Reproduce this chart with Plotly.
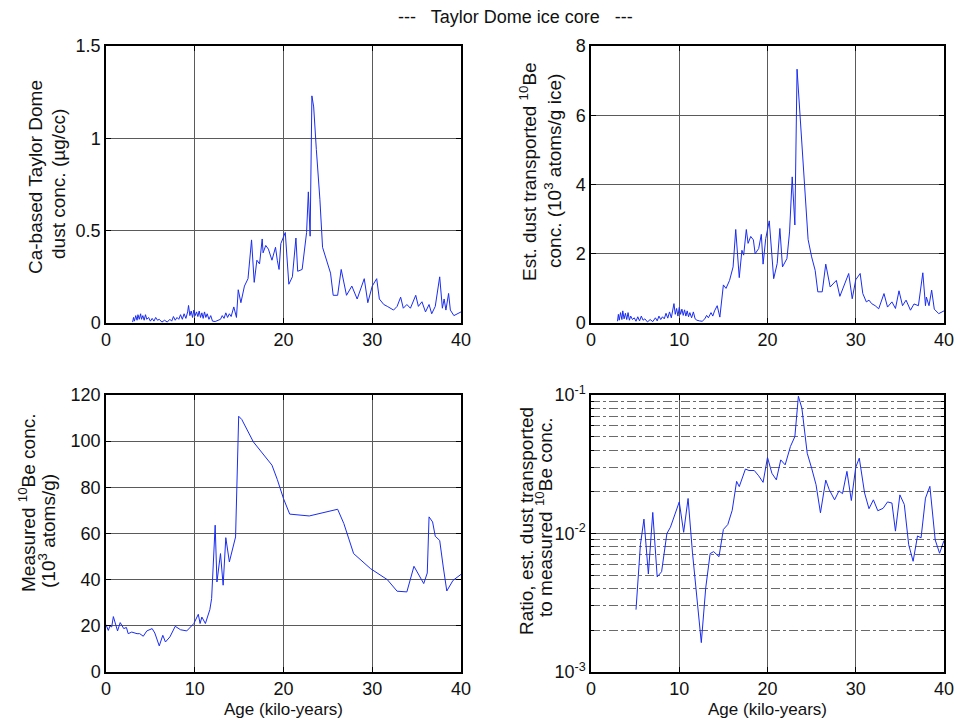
import plotly.graph_objects as go

# ---------------- data ----------------
dust_age = [3.0, 3.1, 3.2, 3.35, 3.5, 3.6, 3.75, 3.9, 4.0, 4.15, 4.3, 4.45, 4.6, 4.8, 5.0, 5.2, 5.4, 5.6, 5.8, 6.0,
            6.3, 6.6, 6.9, 7.2, 7.4, 7.6, 7.8, 8.0, 8.2, 8.4, 8.6, 8.8, 9.0, 9.2, 9.3, 9.45, 9.6, 9.75, 9.9, 10.05,
            10.2, 10.35, 10.5, 10.65, 10.8, 10.95, 11.1, 11.25, 11.4, 11.6, 11.8, 12.0, 12.3, 12.6, 12.9, 13.1, 13.3,
            13.5, 13.7, 13.9, 14.1, 14.4, 14.7, 14.9, 15.2, 15.6, 16.0, 16.4, 16.7, 17.0, 17.3, 17.6, 17.7, 18.0,
            18.3, 18.7, 19.1, 19.3, 19.5, 19.7, 20.2, 20.6, 21.0, 21.4, 21.6, 22.1, 22.3, 22.6, 22.8, 23.0, 23.2,
            23.4, 23.7, 24.1, 24.4, 24.9, 25.3, 25.6, 26.1, 26.5, 27.1, 27.7, 28.3, 29.1, 29.5, 30.0, 30.5, 30.8,
            31.3, 31.7, 32.0, 32.4, 32.8, 33.2, 33.5, 33.9, 34.3, 34.9, 35.2, 35.6, 36.0, 36.4, 36.7, 37.1, 37.6,
            37.9, 38.1, 38.3, 38.6, 38.8, 39.2, 40.0]
dust_conc = [0.005, 0.03, 0.01, 0.04, 0.015, 0.045, 0.02, 0.05, 0.02, 0.04, 0.015, 0.045, 0.02, 0.03, 0.01, 0.025,
             0.01, 0.03, 0.015, 0.02, 0.005, 0.015, 0.005, 0.02, 0.01, 0.035, 0.015, 0.03, 0.02, 0.045, 0.02, 0.05,
             0.025, 0.06, 0.095, 0.04, 0.065, 0.03, 0.07, 0.04, 0.06, 0.035, 0.065, 0.03, 0.055, 0.025, 0.06, 0.03,
             0.05, 0.02, 0.04, 0.01, 0.008, 0.015, 0.02, 0.04, 0.025, 0.055, 0.03, 0.05, 0.035, 0.087, 0.03, 0.18,
             0.11, 0.2, 0.24, 0.45, 0.22, 0.34, 0.32, 0.455, 0.38, 0.42, 0.40, 0.34, 0.41, 0.34, 0.29, 0.43, 0.49,
             0.21, 0.25, 0.46, 0.28, 0.29, 0.38, 0.49, 0.71, 0.47, 1.23, 1.17, 0.94, 0.67, 0.41, 0.33, 0.27, 0.15,
             0.15, 0.29, 0.15, 0.20, 0.13, 0.24, 0.11, 0.2, 0.24, 0.13, 0.10, 0.09, 0.08, 0.07, 0.09, 0.14, 0.08,
             0.1, 0.08, 0.15, 0.09, 0.115, 0.06, 0.1, 0.05, 0.09, 0.25, 0.08, 0.13, 0.07, 0.16, 0.07, 0.04, 0.06]

be_dust_age = [3.0, 3.1, 3.2, 3.35, 3.5, 3.6, 3.75, 3.9, 4.05, 4.2, 4.35, 4.5, 4.7, 4.9, 5.1, 5.3, 5.5, 5.7, 5.9,
               6.1, 6.4, 6.7, 7.0, 7.3, 7.5, 7.7, 7.9, 8.1, 8.3, 8.5, 8.7, 8.9, 9.1, 9.3, 9.4, 9.55, 9.7, 9.85,
               10.0, 10.15, 10.3, 10.45, 10.6, 10.75, 10.9, 11.05, 11.2, 11.4, 11.6, 11.8, 12.0, 12.3, 12.6, 12.9,
               13.1, 13.3, 13.6, 13.8, 14.0, 14.3, 14.6, 15.0, 15.3, 15.7, 16.1, 16.4, 16.8, 17.1, 17.3, 17.6,
               17.8, 18.1, 18.4, 18.6, 19.0, 19.3, 19.5, 19.8, 20.2, 20.7, 21.1, 21.4, 21.7, 22.2, 22.5, 22.8,
               23.1, 23.35, 23.5, 23.9, 24.2, 24.6, 25.0, 25.4, 25.7, 26.2, 26.6, 27.1, 27.8, 28.2, 29.2, 29.6,
               30.0, 30.5, 30.8, 31.2, 31.5, 31.8, 32.2, 32.6, 33.2, 33.6, 34.1, 34.5, 34.9, 35.3, 35.7, 36.2,
               36.6, 37.1, 37.6, 37.9, 38.0, 38.3, 38.6, 38.9, 39.4, 40.0]
be_dust_conc = [0.05, 0.25, 0.08, 0.3, 0.1, 0.35, 0.12, 0.28, 0.1, 0.3, 0.08, 0.2, 0.1, 0.15, 0.05, 0.18, 0.06,
                0.2, 0.08, 0.12, 0.03, 0.1, 0.04, 0.15, 0.06, 0.2, 0.1, 0.18, 0.12, 0.28, 0.14, 0.32, 0.15, 0.4,
                0.56, 0.25, 0.42, 0.2, 0.45, 0.25, 0.4, 0.22, 0.38, 0.2, 0.35, 0.18, 0.3, 0.15, 0.32, 0.12, 0.08,
                0.06, 0.05, 0.12, 0.22, 0.15, 0.3, 0.2, 0.35, 0.5, 0.17, 1.1, 1.0, 1.23, 1.62, 2.7, 1.31, 2.1, 1.96,
                2.7, 2.3, 2.5, 2.4, 2.0, 2.15, 2.56, 1.7, 2.44, 2.95, 1.28, 1.72, 2.73, 1.62, 1.86, 2.63, 4.22, 2.83,
                7.33, 6.73, 5.28, 3.84, 2.41, 1.91, 1.52, 0.9, 0.9, 1.7, 1.04, 1.23, 0.77, 1.43, 0.7, 1.25, 1.43,
                0.85, 0.61, 0.66, 0.56, 0.5, 0.41, 0.85, 0.46, 0.61, 0.42, 0.93, 0.5, 0.66, 0.37, 0.55, 0.5, 1.45,
                0.5, 0.75, 0.5, 0.95, 0.4, 0.27, 0.35]

be_meas_age = [0.0, 0.26, 0.45, 0.64, 0.83, 1.1, 1.3, 1.6, 2.0, 2.3, 2.5, 2.9, 3.5, 3.8, 4.2, 4.6, 5.2, 5.5, 6.0,
               6.4, 6.7, 7.2, 7.8, 8.4, 9.1, 9.9, 10.4, 10.6, 10.8, 11.2, 11.7, 11.9, 12.3, 12.5, 12.9, 13.2,
               13.5, 13.9, 14.4, 14.6, 14.95, 15.3, 16.6, 17.4, 18.7, 19.3, 20.0, 20.7, 22.9, 26.1, 26.8, 27.9,
               29.8, 31.7, 32.8, 33.9, 34.7, 35.8, 36.2, 36.4, 36.8, 37.1, 37.6, 38.0, 38.4, 39.1, 40.0]
be_meas_conc = [20.5, 18.0, 20.0, 19.5, 24.0, 20.0, 17.8, 21.4, 18.8, 19.3, 16.6, 17.3, 16.6, 16.6, 15.5, 17.8,
                18.8, 16.9, 11.3, 15.9, 13.0, 15.2, 19.8, 18.3, 17.8, 21.0, 25.0, 21.0, 23.8, 21.0, 27.0, 31.8,
                63.6, 39.0, 51.3, 37.6, 58.2, 47.7, 55.0, 58.5, 110.8, 109.4, 99.7, 96.0, 89.6, 83.4, 75.1, 68.4,
                67.6, 70.5, 64.3, 51.3, 44.8, 40.0, 35.0, 34.7, 45.8, 38.3, 42.9, 67.2, 65.0, 58.8, 57.0, 45.5,
                35.1, 39.7, 42.3]

ratio_age = [5.1, 5.6, 6.0, 6.5, 7.0, 7.5, 8.0, 8.6, 9.0, 9.6, 10.0, 10.5, 11.0, 11.5, 12.2, 12.5, 13.0, 13.5,
             13.9, 14.5, 15.0, 15.5, 16.0, 16.5, 16.8, 17.5, 17.9, 18.5, 19.0, 19.5, 20.0, 20.5, 21.0, 21.5,
             22.0, 22.6, 23.1, 23.5, 23.9, 24.5, 25.0, 25.5, 26.0, 26.6, 27.0, 27.6, 28.1, 28.5, 29.0, 29.5,
             30.0, 30.4, 31.0, 31.5, 32.0, 32.5, 33.1, 33.6, 34.1, 34.5, 35.0, 35.5, 36.0, 36.5, 37.0, 37.4,
             37.9, 38.4, 39.0, 39.5, 40.0]
ratio_val = [0.00282, 0.0083, 0.0127, 0.0051, 0.0142, 0.00486, 0.0053, 0.0100, 0.0111, 0.0141, 0.0169, 0.0102,
             0.0179, 0.00724, 0.00253, 0.00163, 0.00405, 0.00716, 0.0074, 0.0068, 0.0107, 0.0116, 0.0147, 0.0238,
             0.0218, 0.0292, 0.0285, 0.0285, 0.0261, 0.0234, 0.0354, 0.0272, 0.0244, 0.0340, 0.0313, 0.0425,
             0.0501, 0.098, 0.080, 0.038, 0.0296, 0.0225, 0.0141, 0.0243, 0.0207, 0.0175, 0.0203, 0.0194, 0.0281,
             0.0173, 0.0301, 0.0350, 0.0196, 0.0151, 0.0175, 0.0146, 0.0152, 0.0169, 0.0166, 0.0104, 0.0190,
             0.0162, 0.0083, 0.0063, 0.0096, 0.0093, 0.0180, 0.0219, 0.0090, 0.0072, 0.0089]

x_ticks = [0, 10, 20, 30, 40]
y1_ticks = [0, 0.5, 1, 1.5]
y1_ticktext = ["0", "0.5", "1", "1.5"]
y2_ticks = [0, 2, 4, 6, 8]
y3_ticks = [0, 20, 40, 60, 80, 100, 120]
y4_ticks = [0.001, 0.01, 0.1]
y4_ticktext = ["10<sup>-3</sup>", "10<sup>-2</sup>", "10<sup>-1</sup>"]

# ---------------- layout ----------------
W, H = 955, 720
FONT = "Liberation Sans, Arial, sans-serif"
LINE = "#1a2cf0"
TICK_SIZE = 18
LABEL_SIZE = 19


def px_x(p):
    return p / W


def px_y(p):
    return 1 - p / H


left_dom = [px_x(106), px_x(461)]
right_dom = [px_x(591), px_x(944)]
top_dom = [px_y(323), px_y(46)]
bot_dom = [px_y(672), px_y(395)]

fig = go.Figure()
line_style = dict(color=LINE, width=1)
fig.add_trace(go.Scatter(x=dust_age, y=dust_conc, mode="lines", line=line_style, xaxis="x", yaxis="y"))
fig.add_trace(go.Scatter(x=be_dust_age, y=be_dust_conc, mode="lines", line=line_style, xaxis="x2", yaxis="y2"))
fig.add_trace(go.Scatter(x=be_meas_age, y=be_meas_conc, mode="lines", line=line_style, xaxis="x3", yaxis="y3"))
fig.add_trace(go.Scatter(x=ratio_age, y=ratio_val, mode="lines", line=line_style, xaxis="x4", yaxis="y4"))

GRID = "#5a5a5a"
common = dict(showline=True, linecolor="black", linewidth=1.5, mirror="ticks", ticks="inside",
              ticklen=5, tickcolor="black", showgrid=True, gridcolor=GRID, gridwidth=1,
              zeroline=False, automargin=False,
              tickfont=dict(family=FONT, size=TICK_SIZE, color="#111"))


def xax(dom, anchor):
    return dict(domain=dom, anchor=anchor, range=[0, 40], tickvals=x_ticks, **common)


fig.update_layout(
    width=W, height=H,
    margin=dict(l=0, r=0, t=0, b=0, autoexpand=False),
    paper_bgcolor="white", plot_bgcolor="white",
    showlegend=False,
    font=dict(family=FONT, size=LABEL_SIZE, color="#111"),
    xaxis=xax(left_dom, "y"),
    xaxis2=xax(right_dom, "y2"),
    xaxis3=xax(left_dom, "y3"),
    xaxis4=xax(right_dom, "y4"),
    yaxis=dict(domain=top_dom, anchor="x", range=[0, 1.5], tickvals=y1_ticks, ticktext=y1_ticktext, **common),
    yaxis2=dict(domain=top_dom, anchor="x2", range=[0, 8], tickvals=y2_ticks, **common),
    yaxis3=dict(domain=bot_dom, anchor="x3", range=[0, 120], tickvals=y3_ticks, **common),
    yaxis4=dict(domain=bot_dom, anchor="x4", type="log", range=[-3, -1], tickvals=y4_ticks,
                ticktext=y4_ticktext,
                minor=dict(dtick="D1", showgrid=True, gridcolor="#6a6a6a", griddash="dashdot",
                           gridwidth=1, ticks="inside", ticklen=3, tickcolor="black"),
                **common),
)

ann = []


def text(x, y, s, angle=0, size=LABEL_SIZE):
    ann.append(dict(x=px_x(x), y=px_y(y), xref="paper", yref="paper", text=s, showarrow=False,
                    textangle=angle, xanchor="center", yanchor="middle",
                    font=dict(family=FONT, size=size, color="#111")))


text(515, 17, "---   Taylor Dome ice core   ---", size=18)
text(283, 709, "Age (kilo-years)", size=17)
text(767, 709, "Age (kilo-years)", size=17)
# y-axis labels
text(35, 177, "Ca-based Taylor Dome", -90)
text(58, 184, "dust conc. (µg/cc)", -90)
text(528, 172, "Est. dust transported <sup>10</sup>Be", -90)
text(553, 171, "conc. (10<sup>3</sup> atoms/g ice)", -90)
text(27, 503, "Measured <sup>10</sup>Be conc.", -90)
text(47, 531, "(10<sup>3</sup> atoms/g)", -90)
text(526, 521, "Ratio, est. dust transported", -90)
text(544, 517, "to measured <sup>10</sup>Be conc.", -90)
fig.update_layout(annotations=ann)

fig.write_html("out.html")
